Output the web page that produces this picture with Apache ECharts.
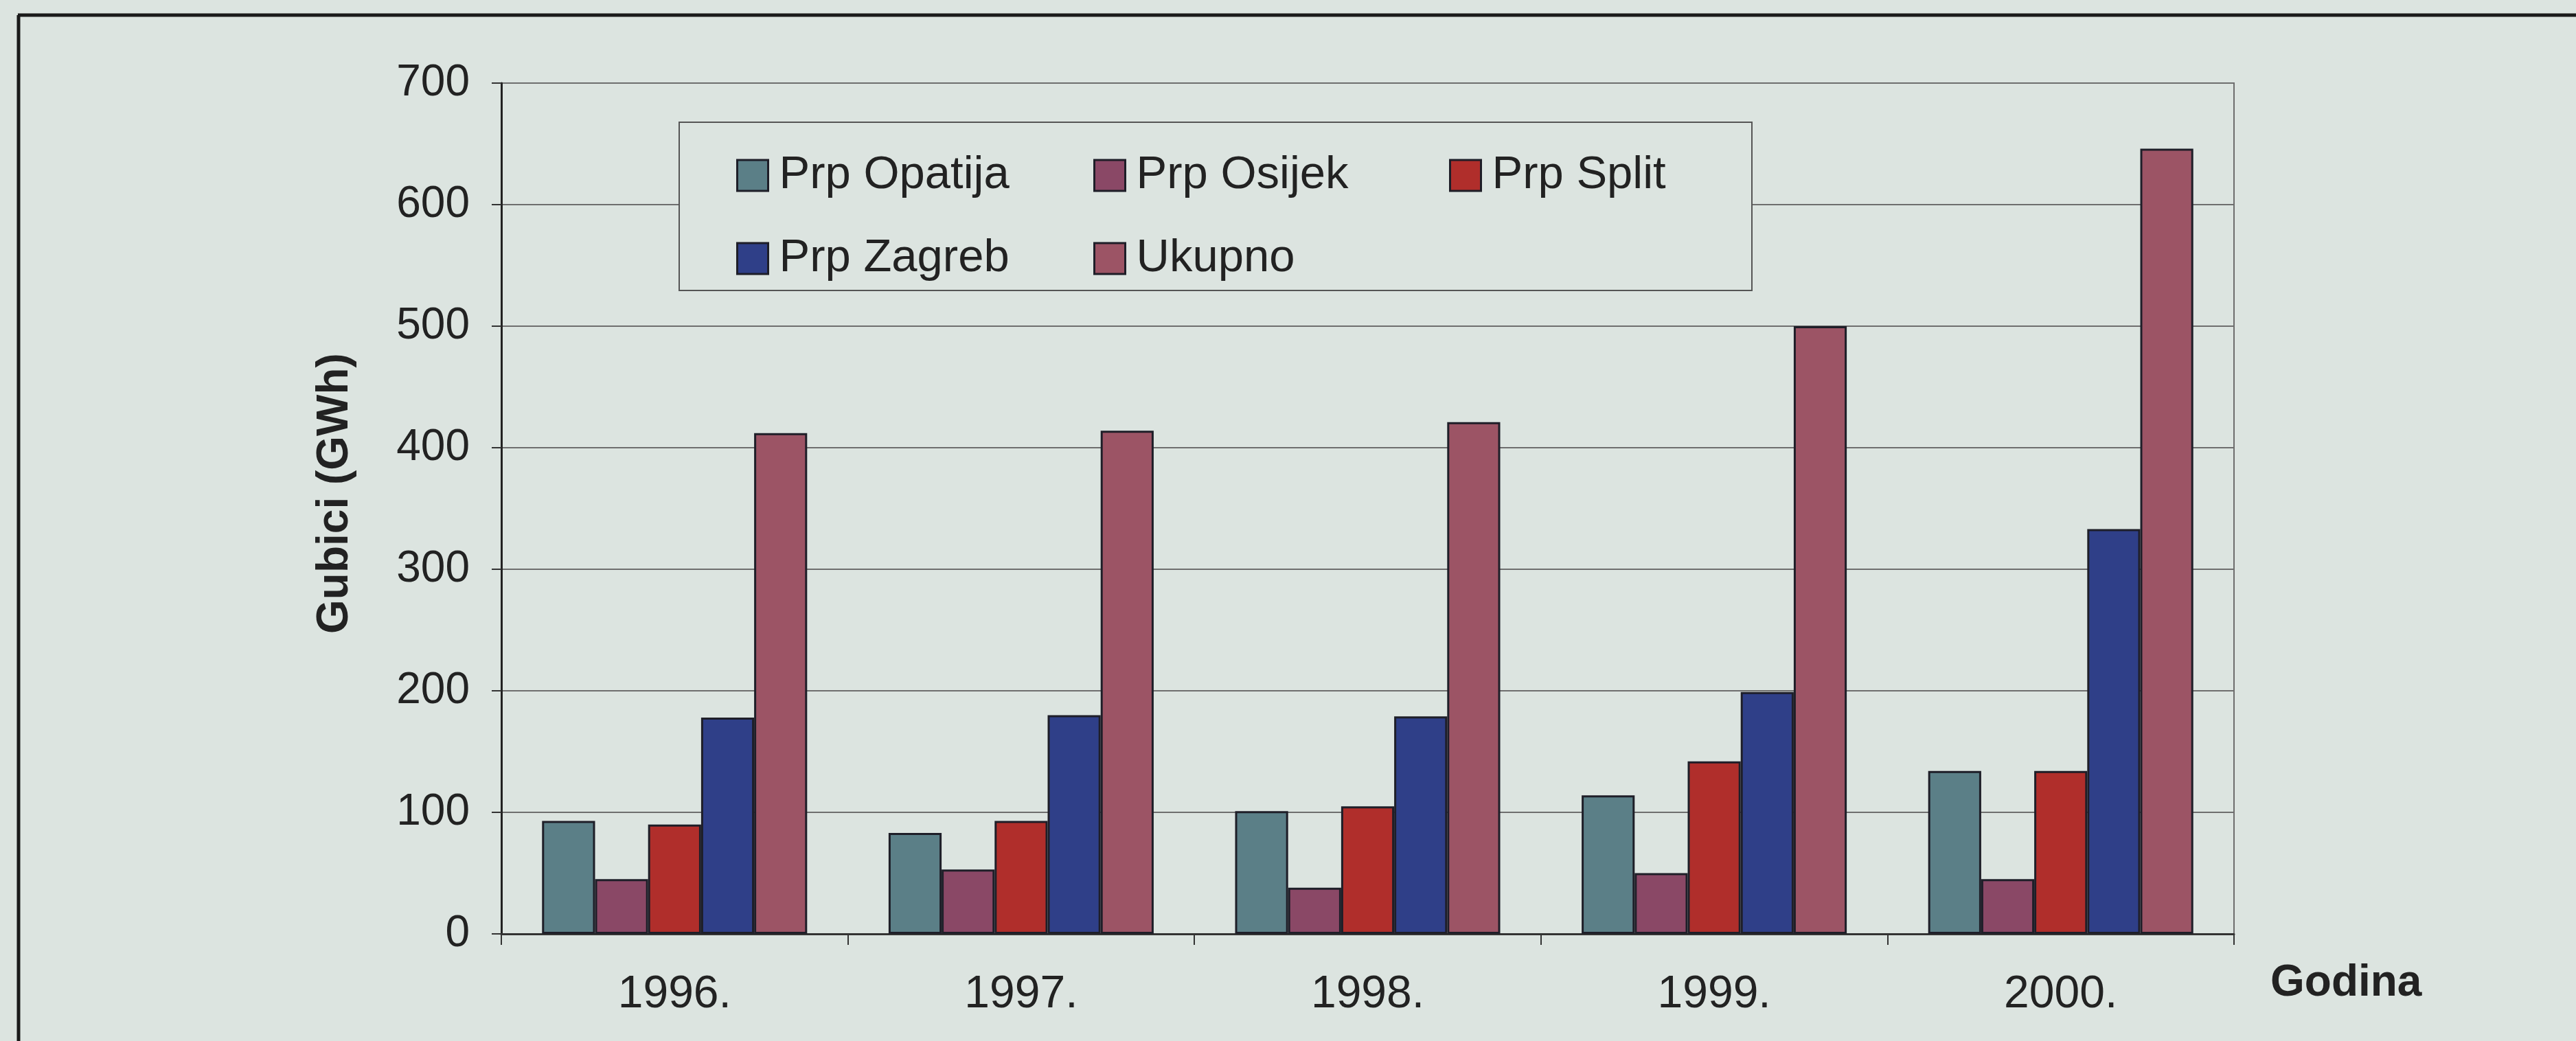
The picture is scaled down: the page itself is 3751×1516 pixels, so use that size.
<!DOCTYPE html>
<html>
<head>
<meta charset="utf-8">
<script src="https://cdn.jsdelivr.net/npm/echarts@6/dist/echarts.min.js"></script>
<style>
html,body{margin:0;padding:0;background:#dce4e0;}
#chart{width:3751px;height:1516px;}
</style>
</head>
<body>
<div id="chart"></div>
<script>
const categories = ['1996.', '1997.', '1998.', '1999.', '2000.'];
const seriesNames = ['Prp Opatija', 'Prp Osijek', 'Prp Split', 'Prp Zagreb', 'Ukupno'];
const prpOpatija = [93, 83, 101, 114, 134];
const prpOsijek = [45, 53, 38, 50, 45];
const prpSplit = [90, 93, 105, 142, 134];
const prpZagreb = [178, 180, 179, 199, 333];
const ukupno = [412, 414, 421, 500, 646];
const yTicks = [0, 100, 200, 300, 400, 500, 600, 700];

const colors = ['#5b7f87', '#8a4866', '#b02e2b', '#2f3f88', '#9c5465'];
const values = [prpOpatija, prpOsijek, prpSplit, prpZagreb, ukupno];
const FONT = "'Liberation Sans', Arial, sans-serif";

// legend slot positions (left, top) for each series: 3 in row one, 2 in row two
const legendLeft = [1067, 1587, 2105, 1067, 1587];
const legendTop = [217, 217, 217, 338, 338];

const chart = echarts.init(document.getElementById('chart'));
const series = seriesNames.map((n, i) => ({
  name: n,
  type: 'bar',
  data: values[i],
  barGap: '0%',
  barCategoryGap: '23.5%',
  itemStyle: { color: colors[i], borderColor: '#1e1e28', borderWidth: 3 },
  emphasis: { disabled: true }
}));

const legends = seriesNames.map((n, i) => ({
  data: [n],
  left: legendLeft[i], top: legendTop[i],
  itemWidth: 45, itemHeight: 45, itemGap: 0,
  icon: 'rect',
  itemStyle: { borderColor: '#1e1e28', borderWidth: 3 },
  textStyle: { fontFamily: FONT, fontSize: 67, color: '#222', padding: [0, 0, 0, 11] },
  selectedMode: false,
  z: 5
}));

chart.setOption({
  backgroundColor: '#dce4e0',
  animation: false,
  textStyle: { fontFamily: FONT },
  grid: {
    left: 730, right: 3751 - 3253, top: 121, bottom: 1516 - 1360,
    show: true, borderColor: '#6d6d6d', borderWidth: 2, backgroundColor: 'transparent'
  },
  xAxis: {
    type: 'category',
    data: categories,
    name: 'Godina',
    nameLocation: 'end',
    nameGap: 53,
    nameTextStyle: { fontFamily: FONT, fontSize: 64, fontWeight: 'bold', color: '#222', align: 'left', verticalAlign: 'top', padding: [40, 0, 0, 0] },
    axisLine: { lineStyle: { color: '#333', width: 3 } },
    axisTick: { show: true, length: 16, lineStyle: { color: '#333', width: 2 } },
    axisLabel: { fontFamily: FONT, fontSize: 66, color: '#222', margin: 56 }
  },
  yAxis: {
    type: 'value',
    min: 0, max: 700, interval: 100,
    name: 'Gubici (GWh)',
    nameLocation: 'middle',
    nameGap: 210,
    nameRotate: 90,
    nameTextStyle: { fontFamily: FONT, fontSize: 64, fontWeight: 'bold', color: '#222', padding: [0, 0, 0, 44] },
    axisLine: { show: true, lineStyle: { color: '#222', width: 3 } },
    axisTick: { show: true, length: 14, lineStyle: { color: '#333', width: 2 } },
    axisLabel: { fontFamily: FONT, fontSize: 64, color: '#222', margin: 46 },
    splitLine: { show: true, lineStyle: { color: '#6e6e6e', width: 2 } }
  },
  legend: legends,
  graphic: [
    { type: 'rect', z: 3, shape: { x: 989, y: 178, width: 1562, height: 245 },
      style: { fill: '#dce4e0', stroke: '#555', lineWidth: 2 } },
    { type: 'line', z: 3, shape: { x1: 26, y1: 22, x2: 3751, y2: 22 }, style: { stroke: '#1a1a1a', lineWidth: 5 } },
    { type: 'line', z: 3, shape: { x1: 27, y1: 22, x2: 27, y2: 1516 }, style: { stroke: '#1a1a1a', lineWidth: 5 } }
  ],
  series: series
});
</script>
</body>
</html>
